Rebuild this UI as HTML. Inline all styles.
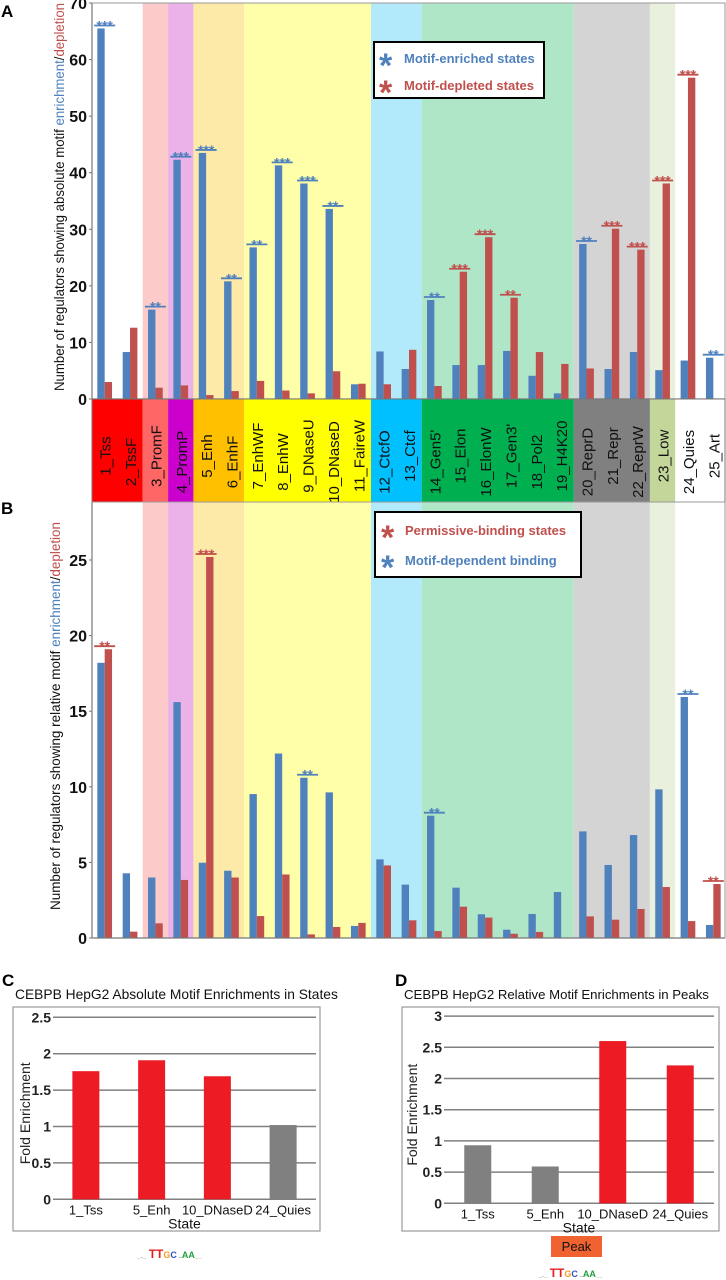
<!DOCTYPE html>
<html><head><meta charset="utf-8"><style>
html,body{margin:0;padding:0;background:#fff;}
svg{display:block;font-family:"Liberation Sans",Arial,sans-serif;}
</style></head><body>
<svg id="fig" width="726" height="1280" viewBox="0 0 726 1280" xmlns="http://www.w3.org/2000/svg">
<g id="gA"></g>
<g id="gStrip"></g>
<g id="gB"></g>
<g id="gC"></g>
<g id="gD"></g>
</svg>
<script>
const states = ["1_Tss","2_TssF","3_PromF","4_PromP","5_Enh","6_EnhF","7_EnhWF","8_EnhW","9_DNaseU","10_DNaseD","11_FaireW","12_CtcfO","13_Ctcf","14_Gen5'","15_Elon","16_ElonW","17_Gen3'","18_Pol2","19_H4K20","20_ReprD","21_Repr","22_ReprW","23_Low","24_Quies","25_Art"];
const aBlue = [65.5,8.3,15.8,42.3,43.5,20.8,26.8,41.3,38.1,33.6,2.6,8.4,5.3,17.5,6.0,6.0,8.5,4.1,1.0,27.4,5.3,8.3,5.1,6.8,7.3];
const aRed  = [3.0,12.6,2.0,2.4,0.7,1.4,3.2,1.5,1.0,4.9,2.7,2.6,8.7,2.3,22.5,28.6,17.9,8.3,6.2,5.4,30.1,26.4,38.1,56.8,0];
const aSig  = ["b***","","b**","b***","b***","b**","b**","b***","b***","b**","","","","b**","r***","r***","r**","","","b**","r***","r***","r***","r***","b**"];
const bBlue = [18.2,4.28,4.0,15.6,4.98,4.45,9.52,12.2,10.6,9.63,0.8,5.2,3.53,8.09,3.33,1.57,0.55,1.59,3.04,7.05,4.83,6.81,9.83,15.94,0.86];
const bRed  = [19.1,0.42,0.97,3.84,25.2,4.0,1.45,4.2,0.24,0.73,1.0,4.8,1.17,0.46,2.07,1.35,0.28,0.4,0,1.43,1.21,1.92,3.37,1.12,3.57];
const bSig  = ["r**","","","","r***","","","","b**","","","","","b**","","","","","","","","","","b**","r**"];
const aTicks = [0,10,20,30,40,50,60,70];
const bTicks = [0,5,10,15,20,25];
const cCats = ["1_Tss","5_Enh","10_DNaseD","24_Quies"];
const cVals = [1.76,1.91,1.69,1.02];
const cSigFlag = [1,1,1,0];
const cTicks = [0,0.5,1,1.5,2,2.5];
const dCats = ["1_Tss","5_Enh","10_DNaseD","24_Quies"];
const dVals = [0.93,0.59,2.6,2.21];
const dSigFlag = [0,0,1,1];
const dTicks = [0,0.5,1,1.5,2,2.5,3];

const groups = [
 {from:0,to:1,bg:"#ffffff",strip:"#ff0000"},
 {from:2,to:2,bg:"#fdcaca",strip:"#ff6666"},
 {from:3,to:3,bg:"#ebb2ea",strip:"#cc00cc"},
 {from:4,to:5,bg:"#fde9a8",strip:"#ffc000"},
 {from:6,to:10,bg:"#ffffaa",strip:"#ffff00"},
 {from:11,to:12,bg:"#b2e9fb",strip:"#00c0ff"},
 {from:13,to:18,bg:"#b0e6c8",strip:"#00b050"},
 {from:19,to:21,bg:"#d4d4d4",strip:"#808080"},
 {from:22,to:22,bg:"#e9f0dd",strip:"#c4d79b"},
 {from:23,to:24,bg:"#ffffff",strip:"#ffffff"}
];
const BLUE="#4f81bd", RED="#c0504d";
const NS="http://www.w3.org/2000/svg";
function mk(parent,tag,attrs,text){const e=document.createElementNS(NS,tag);for(const k in attrs)e.setAttribute(k,attrs[k]);if(text!==undefined)e.textContent=text;parent.appendChild(e);return e;}

const X0=92, CW=(726-92)/25;
function colX(i){return X0+i*CW;}
function yA(v){return 399-v*5.657;}
function yB(v){return 938-v*15.12;}

function panel(g,yfn,top,bottom,blue,red,sig,ticks,prefix){
  groups.forEach(gr=>{
    const r=mk(g,"rect",{x:colX(gr.from),y:top,width:CW*(gr.to-gr.from+1),height:bottom-top,fill:gr.bg});
    
    
  });
  mk(g,"rect",{x:X0,y:top,width:726-X0-1,height:bottom-top,fill:"none",stroke:"#999","stroke-width":1});
  for(let i=0;i<25;i++){
    const bx=colX(i)+CW*0.21, bw=CW*0.29;
    const b=mk(g,"rect",{x:bx,y:yfn(blue[i]),width:bw,height:yfn(0)-yfn(blue[i]),fill:BLUE});
    
    
    const r=mk(g,"rect",{x:bx+bw,y:yfn(red[i]),width:bw,height:yfn(0)-yfn(red[i]),fill:RED});
    
    
    if(sig[i]){
      const col=sig[i][0]==="b"?BLUE:RED;
      const v=sig[i][0]==="b"?blue[i]:red[i];
      const ly=yfn(v)-3, cx=colX(i)+CW/2;
      const s=mk(g,"g",{});
      
      
      mk(s,"line",{x1:cx-10.5,x2:cx+10.5,y1:ly,y2:ly,stroke:col,"stroke-width":1.8});
      mk(s,"text",{x:cx,y:ly+5,"text-anchor":"middle","font-size":14,"font-weight":"bold",fill:col},sig[i].slice(1));
    }
  }
  mk(g,"line",{x1:X0,x2:X0,y1:top,y2:bottom,stroke:"#777","stroke-width":1.2});
  mk(g,"line",{x1:X0,x2:725,y1:bottom,y2:bottom,stroke:"#777","stroke-width":1.2});
  ticks.forEach(t=>{
    mk(g,"line",{x1:X0-3,x2:X0,y1:yfn(t),y2:yfn(t),stroke:"#777"});
    const tl=mk(g,"text",{x:X0-5,y:yfn(t)+6,"text-anchor":"end","font-size":16,"font-weight":"bold",fill:"#111"},String(t));
    
    
  });
}
const gA=document.getElementById("gA");
panel(gA,yA,3,399,aBlue,aRed,aSig,aTicks,"a");
mk(gA,"text",{x:1,y:17,"font-size":17,"font-weight":"bold"},"A");
const ta=mk(gA,"text",{transform:"translate(64,197) rotate(-90)","text-anchor":"middle","font-size":14,fill:"#111",textLength:388,lengthAdjust:"spacingAndGlyphs"});

mk(ta,"tspan",{},"Number of regulators showing absolute motif ");mk(ta,"tspan",{fill:BLUE},"enrichment");mk(ta,"tspan",{},"/");mk(ta,"tspan",{fill:RED},"depletion");
const la=mk(gA,"g",{});
mk(la,"rect",{x:374,y:42,width:170,height:56,fill:"#fff",stroke:"#000","stroke-width":2});
mk(la,"text",{x:379,y:77,"font-size":34,"font-weight":"bold",fill:BLUE},"*");
mk(la,"text",{x:404,y:63,"font-size":13,"font-weight":"bold",fill:BLUE},"Motif-enriched states");
mk(la,"text",{x:379,y:104,"font-size":34,"font-weight":"bold",fill:RED},"*");
mk(la,"text",{x:404,y:90,"font-size":13,"font-weight":"bold",fill:RED},"Motif-depleted states");

const gS=document.getElementById("gStrip");
groups.forEach(gr=>{
  const r=mk(gS,"rect",{x:colX(gr.from),y:399,width:CW*(gr.to-gr.from+1),height:103,fill:gr.strip});
  
});
mk(gS,"rect",{x:X0,y:399,width:726-X0-1,height:103,fill:"none",stroke:"#777"});
states.forEach((s,i)=>{
  const cx=colX(i)+CW/2+6;
  const t=mk(gS,"text",{transform:`translate(${cx},${458+(i%2?4:-2)}) rotate(-90)`,"text-anchor":"middle","font-size":15,fill:"#111"},s);
  
});

const gB=document.getElementById("gB");
panel(gB,yB,502,938,bBlue,bRed,bSig,bTicks,"b");
mk(gB,"text",{x:1,y:514,"font-size":17,"font-weight":"bold"},"B");
const tb=mk(gB,"text",{transform:"translate(60,716) rotate(-90)","text-anchor":"middle","font-size":14,fill:"#111",textLength:388,lengthAdjust:"spacingAndGlyphs"});

mk(tb,"tspan",{},"Number of regulators showing relative motif ");mk(tb,"tspan",{fill:BLUE},"enrichment");mk(tb,"tspan",{},"/");mk(tb,"tspan",{fill:RED},"depletion");
const lb=mk(gB,"g",{});
mk(lb,"rect",{x:375,y:512,width:206,height:65,fill:"#fff",stroke:"#000","stroke-width":2});
mk(lb,"text",{x:381,y:549,"font-size":34,"font-weight":"bold",fill:RED},"*");
mk(lb,"text",{x:405,y:535,"font-size":13,"font-weight":"bold",fill:RED},"Permissive-binding states");
mk(lb,"text",{x:381,y:579,"font-size":34,"font-weight":"bold",fill:BLUE},"*");
mk(lb,"text",{x:405,y:565,"font-size":13,"font-weight":"bold",fill:BLUE},"Motif-dependent binding");

function small(g,o,cats,vals,flags,ticks,prefix){
  const yv=v=>o.y0-v*o.k;
  mk(g,"text",{x:o.lx,y:986,"font-size":17,"font-weight":"bold"},o.letter);
  const tt=mk(g,"text",{x:o.tx,y:999,"font-size":o.tfs,fill:"#111"},o.title);
  
  mk(g,"rect",{x:o.bx,y:1007,width:o.bw,height:224,fill:"#fff",stroke:"#999","stroke-width":1.2});
  ticks.forEach(t=>{
    mk(g,"line",{x1:o.px0,x2:o.px1,y1:yv(t),y2:yv(t),stroke:"#808080","stroke-width":1.5});
    const l=mk(g,"text",{x:o.px0-2,y:yv(t)+5,"text-anchor":"end","font-size":14,"font-weight":"bold",fill:"#222"},String(t));
    
  });
  const cw=(o.px1-o.px0)/cats.length;
  cats.forEach((c,i)=>{
    const cx=o.px0+cw*(i+0.5);
    const b=mk(g,"rect",{x:cx-13.5,y:yv(vals[i]),width:27,height:yv(0)-yv(vals[i]),fill:flags[i]?"#ed1c24":"#808080"});
    
    const l=mk(g,"text",{x:cx,y:yv(0)+15,"text-anchor":"middle","font-size":13,fill:"#111"},c);
    
  });
  mk(g,"text",{x:(o.px0+o.px1)/2,y:yv(0)+29,"text-anchor":"middle","font-size":14,fill:"#111"},"State");
  const yt=mk(g,"text",{transform:`translate(${o.ytx},${(o.y0+yv(ticks[ticks.length-1]))/2+5}) rotate(-90)`,"text-anchor":"middle","font-size":14,fill:"#222"},"Fold Enrichment");
  
  const lg=mk(g,"text",{x:o.logoX,y:o.logoY,"font-size":12,"font-weight":"bold"});
  
  mk(lg,"tspan",{fill:"#999","font-size":7},"_._ ");mk(lg,"tspan",{fill:"#e02020"},"TT");mk(lg,"tspan",{fill:"#f0a020","font-size":9},"G");mk(lg,"tspan",{fill:"#3050c0","font-size":9},"C");mk(lg,"tspan",{fill:"#999","font-size":6}," ..");mk(lg,"tspan",{fill:"#20a040","font-size":9},"AA");mk(lg,"tspan",{fill:"#999","font-size":6},"__");
}
small(document.getElementById("gC"),{letter:"C",lx:2,tx:15,tfs:13.8,title:"CEBPB HepG2 Absolute Motif Enrichments in States",bx:13,bw:307,px0:53,px1:316,y0:1199.3,k:72.8,ytx:30,logoX:137,logoY:1258},cCats,cVals,cSigFlag,cTicks,"c");
const gD=document.getElementById("gD");
small(gD,{letter:"D",lx:395,tx:404,tfs:13.2,title:"CEBPB HepG2 Relative Motif Enrichments in Peaks",bx:402,bw:317,px0:444,px1:714,y0:1203.3,k:62.4,ytx:417,logoX:538,logoY:1277},dCats,dVals,dSigFlag,dTicks,"d");
const pk=mk(gD,"g",{});
mk(pk,"rect",{x:551,y:1236,width:51,height:21,fill:"#f0622f"});
mk(pk,"text",{x:576.5,y:1251,"text-anchor":"middle","font-size":13,fill:"#111"},"Peak");
</script>
</body></html>
